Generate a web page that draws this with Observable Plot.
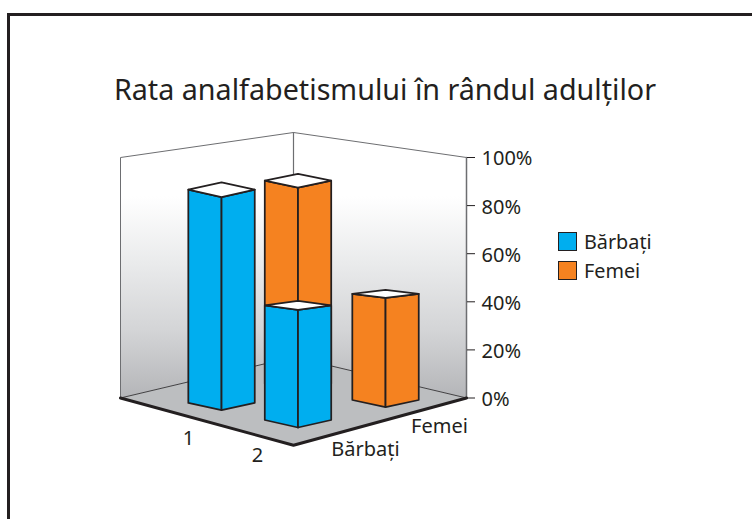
<!DOCTYPE html>
<html lang="ro">
<head>
<meta charset="utf-8">
<script src="https://cdn.jsdelivr.net/npm/d3@7"></script>
<script src="https://cdn.jsdelivr.net/npm/@observablehq/plot@0.6"></script>
<style>
  html, body { margin: 0; padding: 0; background: #fff; width: 752px; height: 519px; overflow: hidden; font-family: "Noto Sans", sans-serif; color: #231f20; }
  #frame { position: absolute; left: 7px; top: 13px; width: 900px; height: 800px; border: 3px solid #231f20; box-sizing: border-box; }
  #title { position: absolute; left: 0; width: 770px; top: 70px; margin: 0; text-align: center; font-weight: 400; font-size: 28.7px; line-height: 38px; white-space: nowrap; }
  #legend { position: absolute; left: 558px; top: 227px; font-size: 19.8px; line-height: 29px; }
  #legend div { display: flex; align-items: center; height: 29px; }
  #legend i { display: block; width: 17px; height: 17px; border: 1.5px solid #231f20; margin-right: 7px; }
  #chart { position: absolute; left: 0; top: 0; }
</style>
</head>
<body>
<div id="frame"></div>
<div id="chart"></div>
<h1 id="title">Rata analfabetismului în rândul adulților</h1>
<div id="legend"></div>
<script>
// Data
const chartTitle = "Rata analfabetismului în rândul adulților";
const seriesNames = ["Bărbați", "Femei"];
const seriesColors = ["#00aeef", "#f58220"];
const categories = ["1", "2"];
const barbati = [88, 46];
const femei = [86.5, 44];
const yTicks = [0, 20, 40, 60, 80, 100];

// Scene layout: floor position of each bar (a: along categories, b: along series)
const floorPos = {
  "Femei|1": [0.348, 0.678],
  "Femei|2": [0.7885, 0.7435],
  "Bărbați|1": [0.348, 0.236],
  "Bărbați|2": [0.7545, 0.2715]
};
const halfSide = 0.096;
const horizon = 255.9;
const perspective = 0.0714;
const catLabelPos = [[0.634, -0.241], [0.999, -0.207]];
const serLabelPos = [[1.254, 0.162], [1.237, 0.607]];

// Projection from the floor (a, b) and a percent height to the plot's x and y scales
const depth = (a, b) => 1 + perspective * (b - a);
const px = (a, b) => a + b - 1;
const py = (a, b, v = 0) => horizon - (horizon - v) / depth(a, b);
const pt = (a, b, v = 0) => ({x: px(a, b), y: py(a, b, v)});

// Bars in painter's order, back to front
const bars = [
  {series: "Femei", cat: "1", value: femei[0]},
  {series: "Femei", cat: "2", value: femei[1]},
  {series: "Bărbați", cat: "1", value: barbati[0]},
  {series: "Bărbați", cat: "2", value: barbati[1]}
];

function barCorners(bar, v, k) {
  const [a, b] = floorPos[bar.series + "|" + bar.cat];
  const cy = py(a, b, v), c0 = py(a, b, 0), w = halfSide;
  const at = (ca, cb) => ({x: px(ca, cb), y: cy + k * (py(ca, cb, 0) - c0)});
  return {
    left: at(a - w, b - w), front: at(a + w, b - w),
    right: at(a + w, b + w), back: at(a - w, b + w)
  };
}

const ink = "#231f20";
const wallInk = "#6d6e71";
const face = (points, fill, extra = {}) =>
  Plot.line([...points, points[0]], {x: "x", y: "y", fill, stroke: ink, strokeWidth: 1.75, strokeLinejoin: "round", ...extra});

const barMarks = bars.flatMap(bar => {
  const bottom = barCorners(bar, 0, 0.82);
  const top = barCorners(bar, bar.value, 0.0975 + 0.00875 * bar.value);
  const tag = p => ({...p, series: bar.series});
  return [
    face([bottom.left, bottom.front, top.front, top.left].map(tag), "series"),
    face([bottom.front, bottom.right, top.right, top.front].map(tag), "series"),
    face([top.left, top.front, top.right, top.back], "white")
  ];
});

const wallGradient = () => {
  const defs = d3.create("svg:defs");
  const g = defs.append("linearGradient").attr("id", "wallFill")
    .attr("x1", 0).attr("y1", 0).attr("x2", 0).attr("y2", 1);
  [[0, "#ffffff"], [0.24, "#ffffff"], [0.5, "#e9eaeb"], [0.75, "#d3d4d6"], [1, "#b4b5b8"]]
    .forEach(([o, c]) => g.append("stop").attr("offset", o).attr("stop-color", c));
  return defs.node();
};

const wallStyle = {fill: "url(#wallFill)", stroke: "none"};
const floorLeft = pt(0, 0), floorFront = pt(1, 0), floorRight = pt(1, 1), floorBack = pt(0, 1);
const topLeft = pt(0, 0, 100), topBack = pt(0, 1, 100), topRight = pt(1, 1, 100);

const plot = Plot.plot({
  width: 752, height: 519,
  marginTop: 0, marginLeft: 0, marginBottom: 0, marginRight: 286,
  style: {fontFamily: "'Noto Sans', sans-serif", background: "transparent", color: ink, overflow: "visible"},
  x: {domain: [-1, 1], range: [120, 466], axis: null},
  y: {domain: [0, 100], range: [397.5, 157], axis: null},
  color: {domain: seriesNames, range: seriesColors},
  marks: [
    wallGradient,
    Plot.line([floorLeft, topLeft, topBack, floorBack, floorLeft], {x: "x", y: "y", ...wallStyle}),
    Plot.line([floorBack, topBack, topRight, floorRight, floorBack], {x: "x", y: "y", ...wallStyle}),
    Plot.line([floorLeft, floorFront, floorRight, floorBack, floorLeft], {x: "x", y: "y", fill: "#bcbec0", stroke: "none"}),
    Plot.line([floorLeft, topLeft, topBack, topRight], {x: "x", y: "y", stroke: wallInk, strokeWidth: 1}),
    Plot.line([topBack, floorBack], {x: "x", y: "y", stroke: wallInk, strokeWidth: 1.2}),
    Plot.line([topRight, floorRight], {x: "x", y: "y", stroke: wallInk, strokeWidth: 1.5}),
    Plot.line([floorLeft, floorBack, floorRight], {x: "x", y: "y", stroke: "#414042", strokeWidth: 1}),
    Plot.line([floorLeft, floorFront, floorRight], {x: "x", y: "y", stroke: ink, strokeWidth: 3}),
    ...barMarks,
    Plot.axisY({anchor: "right", ticks: yTicks, tickSize: 8, fill: "none", label: null, stroke: ink}),
    Plot.axisY({anchor: "right", ticks: yTicks, tickFormat: d => d + "%", tickSize: 0, tickPadding: 15, dy: 1.5, fontSize: 20, label: null, fill: ink}),
    Plot.text(categories, {
      x: (d, i) => px(...catLabelPos[i]), y: (d, i) => py(...catLabelPos[i]),
      text: d => d, fontSize: 20, fill: ink
    }),
    Plot.text(seriesNames, {
      x: (d, i) => px(...serLabelPos[i]), y: (d, i) => py(...serLabelPos[i]),
      text: d => d, fontSize: 20, fill: ink
    })
  ]
});
document.getElementById("chart").appendChild(plot);
document.getElementById("title").textContent = chartTitle;
const legend = d3.select("#legend").selectAll("div").data(seriesNames).join("div");
legend.append("i").style("background", (d, i) => seriesColors[i]);
legend.append("span").text(d => d);
</script>
</body>
</html>
